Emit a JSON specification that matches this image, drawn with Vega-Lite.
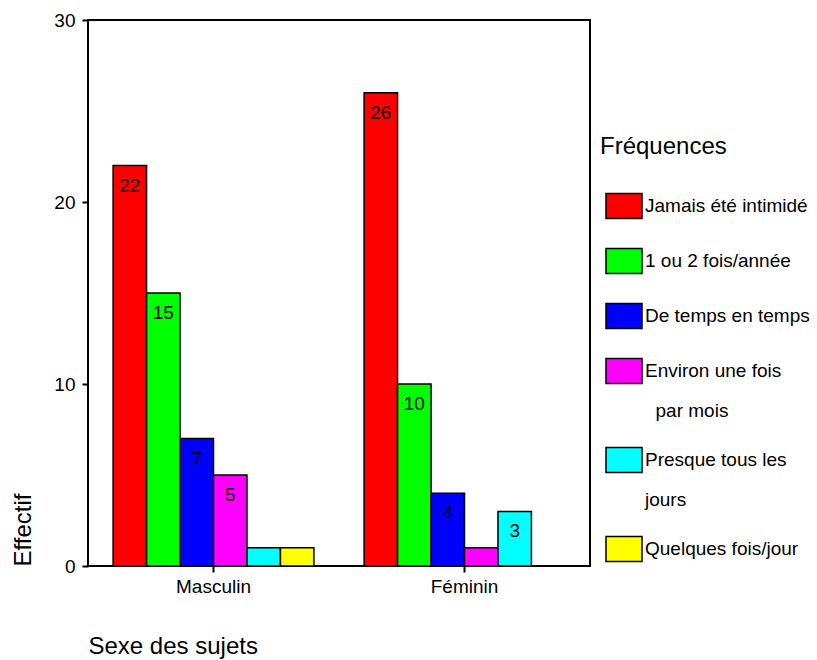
{
  "$schema": "https://vega.github.io/schema/vega-lite/v6.json",
  "width": 502,
  "height": 546,
  "autosize": {"type": "none"},
  "padding": {"left": 88, "top": 20, "right": 227, "bottom": 94},
  "config": {
    "font": "Liberation Sans",
    "view": {"stroke": "black", "strokeWidth": 2}
  },
  "data": {
    "values": [
      {"sexe": "Masculin", "freq": "Jamais été intimidé", "n": 22},
      {"sexe": "Masculin", "freq": "1 ou 2 fois/année", "n": 15},
      {"sexe": "Masculin", "freq": "De temps en temps", "n": 7},
      {"sexe": "Masculin", "freq": "Environ une fois par mois", "n": 5},
      {"sexe": "Masculin", "freq": "Presque tous les jours", "n": 1},
      {"sexe": "Masculin", "freq": "Quelques fois/jour", "n": 1},
      {"sexe": "Féminin", "freq": "Jamais été intimidé", "n": 26},
      {"sexe": "Féminin", "freq": "1 ou 2 fois/année", "n": 10},
      {"sexe": "Féminin", "freq": "De temps en temps", "n": 4},
      {"sexe": "Féminin", "freq": "Environ une fois par mois", "n": 1},
      {"sexe": "Féminin", "freq": "Presque tous les jours", "n": 3},
      {"sexe": "Féminin", "freq": "Quelques fois/jour", "n": 0}
    ]
  },
  "encoding": {
    "x": {
      "field": "sexe",
      "type": "nominal",
      "scale": {"domain": ["Masculin", "Féminin"], "paddingInner": 0.2, "paddingOuter": 0.1},
      "title": "Sexe des sujets",
      "axis": {
        "labelAngle": 0,
        "labelFontSize": 19,
        "labelColor": "black",
        "labelPadding": 5,
        "tickColor": "black",
        "tickSize": 6,
        "tickWidth": 2,
        "domain": false,
        "titleFontSize": 24,
        "titleFontWeight": "normal",
        "titleColor": "black",
        "titleAnchor": "start",
        "titlePadding": 38
      }
    },
    "xOffset": {
      "field": "freq",
      "type": "nominal",
      "scale": {
        "domain": ["Jamais été intimidé", "1 ou 2 fois/année", "De temps en temps", "Environ une fois par mois", "Presque tous les jours", "Quelques fois/jour"],
        "paddingInner": 0,
        "paddingOuter": 0
      }
    },
    "y": {
      "field": "n",
      "type": "quantitative",
      "scale": {"domain": [0, 30]},
      "title": "Effectif",
      "axis": {
        "values": [0, 10, 20, 30],
        "grid": false,
        "domain": false,
        "labelFontSize": 19,
        "labelColor": "black",
        "labelPadding": 7,
        "tickColor": "black",
        "tickSize": 6,
        "tickWidth": 2,
        "titleFontSize": 24,
        "titleFontWeight": "normal",
        "titleColor": "black",
        "titleAnchor": "start",
        "titlePadding": 18
      }
    }
  },
  "layer": [
    {
      "mark": {"type": "bar", "stroke": "black", "strokeWidth": 1.5},
      "encoding": {
        "color": {
          "field": "freq",
          "type": "nominal",
          "scale": {
            "domain": ["Jamais été intimidé", "1 ou 2 fois/année", "De temps en temps", "Environ une fois par mois", "Presque tous les jours", "Quelques fois/jour"],
            "range": ["#FF0000", "#00FF00", "#0000FF", "#FF00FF", "#00FFFF", "#FFFF00"]
          },
          "legend": {
            "title": "Fréquences",
            "orient": "none",
            "legendX": 512,
            "legendY": 115,
            "titleFontSize": 24,
            "titleFontWeight": "normal",
            "titleColor": "black",
            "titlePadding": 28,
            "symbolType": "M-1,-0.69H1V0.69H-1Z",
            "symbolSize": 1296,
            "symbolStrokeColor": "black",
            "symbolStrokeWidth": 1.5,
            "symbolOpacity": 1,
            "symbolOffset": 5,
            "labelFontSize": 19,
            "labelColor": "black",
            "labelOffset": 2,
            "labelLimit": 300,
            "rowPadding": 20,
            "labelExpr": "datum.label == 'Environ une fois par mois' ? ['Environ une fois', '\u200b\u00a0\u00a0par mois'] : datum.label == 'Presque tous les jours' ? ['Presque tous les', 'jours'] : datum.label",
            "encode": {
              "labels": {"update": {"lineHeight": {"value": 40}}},
              "symbols": {"update": {"stroke": {"value": "black"}, "strokeWidth": {"value": 1.5}}}
            }
          }
        }
      }
    },
    {
      "transform": [{"filter": "datum.n > 1"}],
      "mark": {"type": "text", "baseline": "top", "dy": 11, "fontSize": 19, "color": "black"},
      "encoding": {"text": {"field": "n", "type": "quantitative"}}
    }
  ]
}
